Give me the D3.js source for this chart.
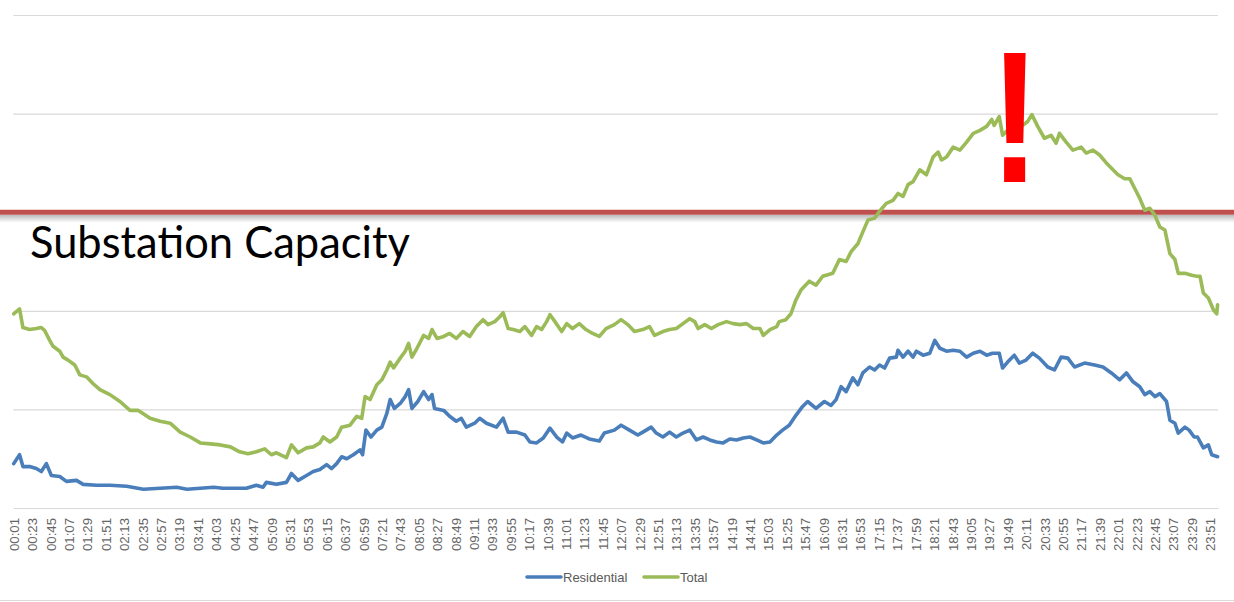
<!DOCTYPE html>
<html>
<head>
<meta charset="utf-8">
<script src="https://cdn.jsdelivr.net/npm/d3@7"></script>
<style>
  html, body { margin: 0; padding: 0; background: #ffffff; }
  svg { display: block; }
</style>
</head>
<body>
<svg id="chart" width="1234" height="602"></svg>
<script>
// ---------- DATA ----------
// time of day in minutes after midnight, and load values (arbitrary units; gridlines every 100)
const tickLabels = ["00:01","00:23","00:45","01:07","01:29","01:51","02:13","02:35","02:57","03:19","03:41","04:03","04:25","04:47","05:09","05:31","05:53","06:15","06:37","06:59","07:21","07:43","08:05","08:27","08:49","09:11","09:33","09:55","10:17","10:39","11:01","11:23","11:45","12:07","12:29","12:51","13:13","13:35","13:57","14:19","14:41","15:03","15:25","15:47","16:09","16:31","16:53","17:15","17:37","17:59","18:21","18:43","19:05","19:27","19:49","20:11","20:33","20:55","21:17","21:39","22:01","22:23","22:45","23:07","23:29","23:51"];

const totalMinutes = [1,8,12,20,28,34,38,44,48,56,60,66,74,80,88,96,104,116,128,140,150,164,176,188,200,212,224,236,248,260,271,281,291,301,309,315,327,333,341,351,359,367,371,379,387,393,403,411,417,421,427,435,441,447,451,455,463,469,473,477,483,491,497,501,507,515,522,530,538,546,554,562,568,576,582,586,592,598,606,612,620,626,632,638,642,648,656,662,669,677,685,693,701,709,719,727,735,743,753,761,767,777,785,793,801,809,815,819,827,835,843,853,861,869,877,885,893,897,905,913,916,924,930,936,942,952,960,968,980,988,996,1002,1010,1016,1022,1030,1036,1044,1052,1058,1064,1070,1076,1084,1092,1100,1106,1110,1116,1124,1132,1140,1148,1156,1164,1170,1173,1179,1183,1189,1197,1207,1213,1218,1225,1233,1241,1247,1251,1259,1267,1277,1283,1291,1299,1307,1315,1321,1329,1335,1341,1347,1353,1359,1365,1371,1377,1383,1389,1393,1401,1409,1415,1419,1423,1429,1435,1439,1440];
const totalValues = [197,202,183,181,182,183,180,170,164,159,153,150,145,135,133,126,120,115,108,99,99,91,88,86,77,72,66,65,64,62,57,55,57,60,54,56,51,64,56,61,62,66,72,67,72,82,84,93,91,113,110,125,130,140,148,142,152,159,167,153,162,175,172,181,172,174,177,172,179,174,184,191,186,189,194,198,182,181,179,184,175,184,181,189,196,189,179,187,182,187,181,177,174,182,186,191,186,179,181,184,175,179,181,182,187,192,189,182,186,182,186,189,187,186,187,182,182,175,181,184,189,191,197,211,221,230,226,235,238,252,250,260,268,280,292,294,301,309,312,319,316,328,331,343,338,356,361,353,356,366,363,371,380,383,387,394,388,397,378,383,385,388,392,399,387,375,378,370,380,371,363,366,360,363,358,350,343,338,334,334,324,314,302,304,297,285,282,258,252,238,238,236,235,235,218,213,201,197,206];

const residentialMinutes = [1,8,12,20,28,34,40,46,56,64,76,84,100,116,136,156,176,196,208,224,240,251,267,279,291,299,303,315,327,333,341,351,359,367,375,381,387,393,399,407,415,418,422,428,435,441,447,451,456,463,469,473,477,484,491,497,501,504,515,522,530,536,542,552,558,566,578,586,592,602,612,618,626,634,642,650,657,662,669,679,689,701,707,719,727,737,747,753,763,769,777,785,793,801,809,817,825,833,841,849,857,865,873,881,889,897,905,913,920,928,936,944,950,960,970,978,984,990,996,1004,1010,1016,1024,1030,1036,1042,1048,1056,1058,1064,1070,1076,1080,1088,1096,1102,1108,1116,1124,1132,1140,1148,1156,1164,1171,1179,1183,1189,1197,1203,1211,1219,1227,1237,1245,1253,1261,1269,1281,1293,1303,1313,1323,1331,1339,1347,1353,1359,1365,1371,1379,1383,1389,1393,1401,1406,1412,1416,1423,1429,1433,1440];
const residentialValues = [45,54,42,42,40,37,45,33,32,27,28,24,23,23,22,19,20,21,19,20,21,20,20,20,23,21,26,24,26,35,28,33,37,39,44,40,45,52,50,54,59,54,79,72,79,82,96,110,101,106,113,120,101,108,118,110,115,101,99,93,88,91,82,86,91,86,82,91,77,77,74,67,66,71,81,72,67,76,71,74,70,68,76,79,84,79,74,77,82,76,72,77,72,76,79,69,72,69,67,66,70,69,71,72,69,66,67,74,79,84,94,103,108,101,108,104,110,123,118,132,125,137,143,140,145,142,152,153,160,153,159,153,159,155,157,170,162,159,160,159,153,157,159,155,157,157,142,148,155,147,150,157,152,143,140,153,152,143,147,145,143,137,130,137,128,123,115,118,113,116,108,89,86,76,82,79,72,72,61,64,54,52];

const capacity = 300;
const gridValues = [100, 200, 300, 400, 500];
const seriesNames = ["Residential", "Total"];
const seriesColors = ["#4a7ebb", "#9bbb59"];

// ---------- DRAWING ----------
const svg = d3.select("#chart");
const W = 1234, H = 602;
const plotLeft = 13.3, plotRight = 1218, plotTop = 15, plotBottom = 508;

const toMin = s => { const p = s.split(":"); return +p[0] * 60 + +p[1]; };

const x = d3.scaleLinear().domain([0.5, 1440.5]).range([plotLeft, plotRight]);
const y = d3.scaleLinear().domain([0, 500]).range([plotBottom, plotTop]);

// gridlines
const gridG = svg.append("g").attr("transform", `translate(${plotLeft},0)`)
  .call(d3.axisLeft(y).tickValues(gridValues).tickSize(-(plotRight - plotLeft)).tickFormat(""));
gridG.select(".domain").remove();
gridG.selectAll(".tick line").attr("stroke", "#d9d9d9").attr("stroke-width", 1.2);

// x axis
const xAxis = svg.append("g").attr("transform", `translate(0,${plotBottom})`)
  .call(d3.axisBottom(x)
    .tickValues(tickLabels.map(toMin))
    .tickFormat((d, i) => tickLabels[i])
    .tickSize(0).tickSizeOuter(0));
xAxis.select(".domain").attr("stroke", "#d9d9d9").attr("stroke-width", 1.2);
xAxis.selectAll(".tick text")
  .attr("font-family", "'Liberation Sans', Arial, sans-serif")
  .attr("font-size", "13.2px")
  .attr("fill", "#666666")
  .attr("text-anchor", "end")
  .attr("transform", "rotate(-90)")
  .attr("x", -10)
  .attr("y", 0)
  .attr("dy", "0.35em");

// capacity line with soft shadow
const defs = svg.append("defs");
const grad = defs.append("linearGradient").attr("id", "shadow").attr("x1", 0).attr("y1", 0).attr("x2", 0).attr("y2", 1);
grad.append("stop").attr("offset", "0%").attr("stop-color", "#000").attr("stop-opacity", 0.28);
grad.append("stop").attr("offset", "100%").attr("stop-color", "#000").attr("stop-opacity", 0);
svg.append("rect")
  .attr("x", 0).attr("y", y(capacity) + 2.5).attr("width", W).attr("height", 8)
  .attr("fill", "url(#shadow)");
svg.append("line")
  .attr("x1", 0).attr("x2", W)
  .attr("y1", y(capacity)).attr("y2", y(capacity))
  .attr("stroke", "#c0504d").attr("stroke-width", 5);

svg.append("text")
  .attr("x", 30).attr("y", y(capacity) + 46)
  .attr("font-family", "Lato, 'Open Sans', sans-serif")
  .attr("font-size", "44px")
  .attr("fill", "#000")
  .attr("textLength", 380)
  .attr("lengthAdjust", "spacingAndGlyphs")
  .text("Substation Capacity");

// series lines
const line = d3.line().x(d => x(d[0])).y(d => y(d[1])).curve(d3.curveLinear);
const seriesData = [
  d3.zip(residentialMinutes, residentialValues),
  d3.zip(totalMinutes, totalValues)
];
seriesData.forEach((data, i) => {
  svg.append("path")
    .datum(data)
    .attr("d", line)
    .attr("fill", "none")
    .attr("stroke", seriesColors[i])
    .attr("stroke-width", 3.6)
    .attr("stroke-linejoin", "round")
    .attr("stroke-linecap", "round");
});

// exclamation mark
svg.append("text")
  .attr("transform", "translate(1015,182) scale(0.8,1)")
  .attr("text-anchor", "middle")
  .attr("font-family", "'Liberation Sans', Arial, sans-serif")
  .attr("font-weight", "bold")
  .attr("font-size", "187px")
  .attr("fill", "#ff0000")
  .text("!");

// legend
const legendItems = [
  { name: seriesNames[0], color: seriesColors[0], x0: 527 },
  { name: seriesNames[1], color: seriesColors[1], x0: 644 }
];
const lg = svg.append("g");
legendItems.forEach(it => {
  lg.append("line")
    .attr("x1", it.x0).attr("x2", it.x0 + 34)
    .attr("y1", 577).attr("y2", 577)
    .attr("stroke", it.color).attr("stroke-width", 3.6)
    .attr("stroke-linecap", "round");
  lg.append("text")
    .attr("x", it.x0 + 36).attr("y", 577).attr("dy", "0.35em")
    .attr("font-family", "'Liberation Sans', Arial, sans-serif")
    .attr("font-size", "13px")
    .attr("fill", "#595959")
    .text(it.name);
});

// bottom border
svg.append("line")
  .attr("x1", 0).attr("x2", W).attr("y1", 600.5).attr("y2", 600.5)
  .attr("stroke", "#d9d9d9").attr("stroke-width", 1);
</script>
</body>
</html>
